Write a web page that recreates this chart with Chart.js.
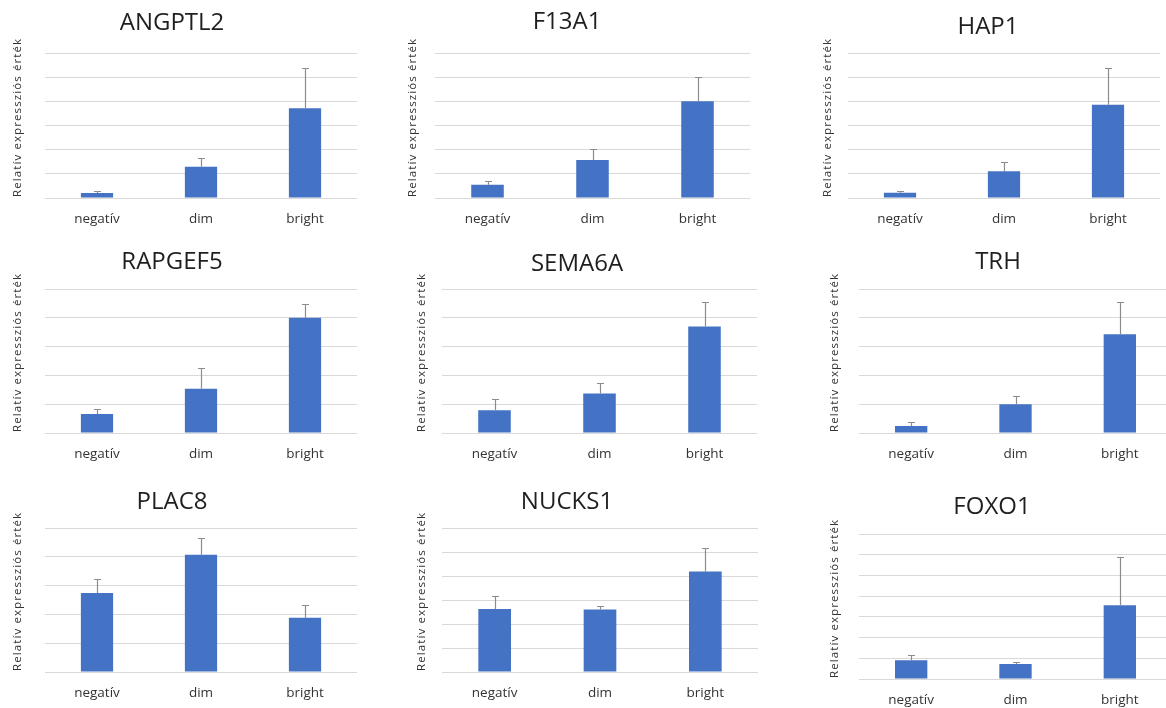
<!DOCTYPE html>
<html>
<head>
<meta charset="utf-8">
<script src="https://cdn.jsdelivr.net/npm/chart.js@4"></script>
<style>
  html, body { margin: 0; padding: 0; background: #ffffff; overflow: hidden; }
  body { width: 1166px; height: 708px; position: relative; }
  .panel { position: absolute; }
</style>
</head>
<body>
<script>
// Sample groups on the x axis
const categories = ['negatív', 'dim', 'bright'];

// Gene names, one chart per gene
const genes = ['ANGPTL2', 'F13A1', 'HAP1', 'RAPGEF5', 'SEMA6A', 'TRH', 'PLAC8', 'NUCKS1', 'FOXO1'];

// Mean relative expression per group, with the upper error (SD) per group
const ANGPTL2 = [0.21, 1.29, 3.71];
const ANGPTL2_err = [0.08, 0.36, 1.66];
const F13A1 = [0.55, 1.57, 4.00];
const F13A1_err = [0.14, 0.45, 1.00];
const HAP1 = [0.22, 1.11, 3.86];
const HAP1_err = [0.07, 0.37, 1.51];
const RAPGEF5 = [0.66, 1.54, 4.00];
const RAPGEF5_err = [0.18, 0.72, 0.49];
const SEMA6A = [0.79, 1.37, 3.70];
const SEMA6A_err = [0.40, 0.37, 0.86];
const TRH = [0.24, 1.00, 3.43];
const TRH_err = [0.13, 0.27, 1.13];
const PLAC8 = [2.74, 4.07, 1.88];
const PLAC8_err = [0.49, 0.58, 0.43];
const NUCKS1 = [2.63, 2.60, 4.19];
const NUCKS1_err = [0.55, 0.16, 0.99];
const FOXO1 = [0.90, 0.72, 3.56];
const FOXO1_err = [0.26, 0.10, 2.34];

// Top of each value axis (gridlines every 1 unit)
const axisMax = [6, 6, 6, 5, 5, 5, 5, 6, 7];

const yTitle = 'Relatív expressziós érték';

const seriesValues = [ANGPTL2, F13A1, HAP1, RAPGEF5, SEMA6A, TRH, PLAC8, NUCKS1, FOXO1];
const seriesErrors = [ANGPTL2_err, F13A1_err, HAP1_err, RAPGEF5_err, SEMA6A_err, TRH_err, PLAC8_err, NUCKS1_err, FOXO1_err];

// Page layout of each small chart: row top, axis-title x, plot box, title centre
const layout = [
  { rowTop: 0,   yTitleX: 18,  left: 45,  right: 357,  top: 53,  bottom: 198, titleX: 172, titleY: 23 },
  { rowTop: 0,   yTitleX: 413, left: 435, right: 750,  top: 53,  bottom: 198, titleX: 567, titleY: 22 },
  { rowTop: 0,   yTitleX: 828, left: 848, right: 1160, top: 53,  bottom: 198, titleX: 988, titleY: 27 },
  { rowTop: 240, yTitleX: 18,  left: 45,  right: 357,  top: 289, bottom: 433, titleX: 172, titleY: 262 },
  { rowTop: 240, yTitleX: 422, left: 442, right: 757,  top: 289, bottom: 433, titleX: 577, titleY: 264 },
  { rowTop: 240, yTitleX: 835, left: 859, right: 1172, top: 289, bottom: 433, titleX: 998, titleY: 262 },
  { rowTop: 480, yTitleX: 18,  left: 45,  right: 357,  top: 528, bottom: 672, titleX: 172, titleY: 502 },
  { rowTop: 480, yTitleX: 422, left: 442, right: 758,  top: 528, bottom: 672, titleX: 567, titleY: 502 },
  { rowTop: 480, yTitleX: 835, left: 859, right: 1172, top: 534, bottom: 679, titleX: 992, titleY: 507 }
];

const FONT = '"Open Sans", "DejaVu Sans", sans-serif';
const BAR_COLOR = '#4472C4';
const X_AXIS_H = 40;

// Draws upper error whiskers, the chart heading and the value-axis title
const extrasPlugin = {
  id: 'extras',
  afterDatasetsDraw(chart) {
    const ds = chart.data.datasets[0];
    const meta = chart.getDatasetMeta(0);
    const yScale = chart.scales.y;
    const ctx = chart.ctx;
    ctx.save();
    ctx.strokeStyle = '#8c8c8c';
    ctx.lineWidth = 1.2;
    meta.data.forEach((bar, i) => {
      const v = ds.data[i];
      const e = ds.errors[i];
      const x = Math.round(bar.x) + 0.5;
      const y0 = yScale.getPixelForValue(v);
      const y1 = Math.round(yScale.getPixelForValue(v + e)) + 0.5;
      ctx.beginPath();
      ctx.moveTo(x, y0);
      ctx.lineTo(x, y1);
      ctx.moveTo(x - 3.5, y1);
      ctx.lineTo(x + 3.5, y1);
      ctx.stroke();
    });
    ctx.restore();
  },
  afterDraw(chart) {
    const o = chart.options.plugins.extras;
    const ctx = chart.ctx;
    ctx.save();
    ctx.font = '24px ' + FONT;
    ctx.fillStyle = '#1f1f1f';
    ctx.textAlign = 'center';
    ctx.textBaseline = 'middle';
    ctx.fillText(o.heading, o.hx, o.hy);
    ctx.restore();

    // value-axis title, reading upward from the bottom of the plot
    ctx.save();
    ctx.translate(o.ax, chart.chartArea.bottom);
    ctx.rotate(-Math.PI / 2);
    ctx.font = '11.5px ' + FONT;
    ctx.letterSpacing = '1.1px';
    ctx.fillStyle = '#333333';
    ctx.textAlign = 'left';
    ctx.textBaseline = 'middle';
    ctx.fillText(o.axisTitle, 1, 0);
    ctx.restore();
  }
};

genes.forEach((gene, k) => {
  const L = layout[k];
  const cl = L.yTitleX - 7;
  const ct = L.rowTop;
  const cw = L.right - cl;
  const ch = L.bottom + X_AXIS_H - ct;
  const yAxisW = L.left - cl;

  const div = document.createElement('div');
  div.className = 'panel';
  div.style.left = cl + 'px';
  div.style.top = ct + 'px';
  div.style.width = cw + 'px';
  div.style.height = ch + 'px';
  const canvas = document.createElement('canvas');
  div.appendChild(canvas);
  document.body.appendChild(div);

  new Chart(canvas, {
    type: 'bar',
    data: {
      labels: categories,
      datasets: [{
        label: gene,
        data: seriesValues[k],
        errors: seriesErrors[k],
        backgroundColor: BAR_COLOR,
        borderWidth: 0,
        categoryPercentage: 1.0,
        barPercentage: 0.31
      }]
    },
    options: {
      responsive: true,
      maintainAspectRatio: false,
      animation: false,
      events: [],
      layout: { padding: { top: L.top - ct, left: 0, right: 0, bottom: 0 } },
      plugins: {
        legend: { display: false },
        tooltip: { enabled: false },
        title: { display: false },
        extras: {
          heading: gene,
          hx: L.titleX - cl,
          hy: L.titleY - ct,
          ax: L.yTitleX - cl,
          axisTitle: yTitle
        }
      },
      scales: {
        x: {
          grid: { display: false, drawTicks: false },
          border: { display: false },
          ticks: {
            color: '#333333',
            font: { family: FONT, size: 13.5 },
            padding: 13,
            maxRotation: 0,
            autoSkip: false
          },
          afterFit(scale) { scale.height = X_AXIS_H; }
        },
        y: {
          min: 0,
          max: axisMax[k],
          ticks: { display: false, stepSize: 1 },
          grid: { color: '#d9d9d9', lineWidth: 1, drawTicks: false },
          border: { display: false },
          title: { display: false },
          afterFit(scale) { scale.width = yAxisW; }
        }
      }
    },
    plugins: [extrasPlugin]
  });
});
</script>
</body>
</html>
